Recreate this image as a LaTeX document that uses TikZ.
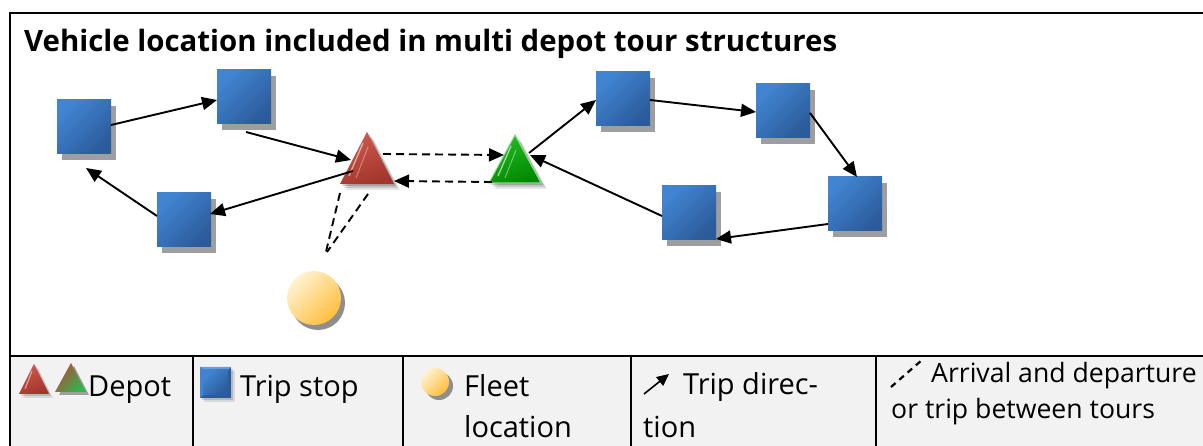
\documentclass[tikz,border=0pt]{standalone}
\usepackage{fontspec}
\setmainfont{Open Sans}
\usetikzlibrary{arrows.meta,shadows,calc}
\definecolor{blueA}{HTML}{4185D2}
\definecolor{blueB}{HTML}{2B5B9A}
\definecolor{shadowgray}{HTML}{9E9E9E}
\definecolor{legendbg}{HTML}{F2F2F2}
\definecolor{redA}{HTML}{D0584C}
\definecolor{redB}{HTML}{A2352C}
\definecolor{greenA}{HTML}{22BB22}
\definecolor{greenB}{HTML}{008800}
\definecolor{greenE}{HTML}{8AD88A}
\definecolor{yelA}{HTML}{FFF3D2}
\definecolor{yelB}{HTML}{FFBE3C}
\definecolor{mixA}{HTML}{B54A3A}
\definecolor{mixB}{HTML}{2DB84C}
\begin{document}
\begin{tikzpicture}[x=1pt,y=-1pt,
  frame/.style={line width=2pt, draw=black},
  stopbox/.style={rectangle, minimum size=54pt, inner sep=0pt, draw=none,
    top color=blueA, bottom color=blueB, shading angle=45,
    general shadow={fill=shadowgray, shadow xshift=5pt, shadow yshift=-6pt}},
  fleetdot/.style={circle, minimum size=54pt, inner sep=0pt, draw=none,
    top color=yelA, bottom color=yelB, shading angle=45,
    general shadow={fill=shadowgray!90!black, shadow xshift=4pt, shadow yshift=-5pt}},
  trip/.style={line width=1.9pt, -{Triangle[length=15pt,width=13pt]}},
  tripdash/.style={line width=1.9pt, dash pattern=on 8pt off 5pt},
  tripdasharr/.style={tripdash, -{Triangle[length=15pt,width=13pt]}},
  title/.style={font=\fontsize{29.4}{34}\selectfont\bfseries, anchor=base west, inner sep=0pt},
  legtext/.style={font=\fontsize{29}{34}\selectfont, anchor=base west, inner sep=0pt},
  legsmall/.style={font=\fontsize{26.6}{32}\selectfont, anchor=base west, inner sep=0pt},
]
\useasboundingbox (0,0) rectangle (1203,446);
% legend background and frame
\fill[legendbg] (10,356) rectangle (1212,452);
\draw[frame] (10,13) rectangle (1212,452);
\draw[frame] (10,356) -- (1212,356);
\foreach \xx in {193,403,631,876} \draw[frame] (\xx,356) -- (\xx,452);

% title
\node[title] (ttl) at (24,52) {Vehicle location included in multi depot tour structures};

% trip stops
\node[stopbox] (s1) at (84,127) {};
\node[stopbox] (s2) at (244,97) {};
\node[stopbox] (s3) at (184,220) {};
\node[stopbox] (s4) at (623,99) {};
\node[stopbox] (s5) at (783,111) {};
\node[stopbox] (s6) at (855,204) {};
\node[stopbox] (s7) at (689,213) {};

% fleet location
\node[fleetdot] (fleet) at (314,298) {};

% depots (drawn shapes) with named centres
\coordinate (red) at (367,158);
\coordinate (green) at (515,159);
\foreach \o/\s in {0.10/6, 0.14/4, 0.18/2} {
  \fill[black, opacity=\o] (367+\s,132+\s) -- (340+\s,184+\s) -- (394+\s,184+\s) -- cycle;
  \fill[black, opacity=\o] (515+\s,135+\s) -- (489+\s,183+\s) -- (541+\s,183+\s) -- cycle;
}
\shade[top color=redA, bottom color=redB, shading angle=20] (367,132) -- (340,184) -- (394,184) -- cycle;
\draw[white, opacity=0.55, line width=1.3pt] (363,143) -- (349,176);
\draw[white, opacity=0.35, line width=1pt] (368,147) -- (356,178);
\shade[top color=greenA, bottom color=greenB, shading angle=20, draw=greenE, line width=1pt] (515,135) -- (489,183) -- (541,183) -- cycle;
\draw[white, opacity=0.6, line width=1.3pt] (511,146) -- (498,176);
\draw[white, opacity=0.4, line width=1pt] (516,150) -- (505,178);

% left tour
\draw[trip] ([shift={(27,-2)}]s1.center) -- ([shift={(-27,3)}]s2.center);
\draw[trip] ([shift={(2,35)}]s2.center) -- ([shift={(-16,2)}]red);
\draw[trip] ([shift={(-14,13)}]red) -- ([shift={(26,-6)}]s3.center);
\draw[trip] ([shift={(-27,-4)}]s3.center) -- ([shift={(2,41)}]s1.center);

% between depots
\draw[tripdasharr] ([shift={(16,-4)}]red) -- ([shift={(-11,-4)}]green);
\draw[tripdasharr] ([shift={(-23,23)}]green) -- ([shift={(27,23)}]red);

% depot to fleet
\draw[tripdash] ([shift={(-27,35)}]red) -- ([shift={(11,-42)}]fleet.center);
\draw[tripdash] ([shift={(1,36)}]red) -- ([shift={(13,-46)}]fleet.center);

% right tour
\draw[trip] ([shift={(14,-6)}]green) -- ([shift={(-27,1)}]s4.center);
\draw[trip] ([shift={(27,1)}]s4.center) -- ([shift={(-27,1)}]s5.center);
\draw[trip] ([shift={(27,2)}]s5.center) -- ([shift={(2,-27)}]s6.center);
\draw[trip] ([shift={(-27,20)}]s6.center) -- ([shift={(27,26)}]s7.center);
\draw[trip] ([shift={(-27,3)}]s7.center) -- ([shift={(15,-4)}]green);

% ---- legend ----
% depot icons
\coordinate (ldep1) at (34,380);
\coordinate (ldep2) at (71,378);
\foreach \o/\s in {0.10/4, 0.15/2} \fill[black, opacity=\o] (34+\s,364+\s) -- (19+\s,394+\s) -- (49+\s,394+\s) -- cycle;
\shade[top color=redA, bottom color=redB, shading angle=20] (34,364) -- (19,394) -- (49,394) -- cycle;
\draw[white, opacity=0.55, line width=1pt] (32,371) -- (25,389);
\fill[shadowgray] (74,366) -- (59,395) -- (89,395) -- cycle;
\shade[top color=mixA, bottom color=mixB, shading angle=50] (71,363) -- (55,392) -- (86,392) -- cycle;
\node[legtext] (ldepot) at (88,397) {Depot};

% trip stop icon
\coordinate (lstop) at (215,382);
\foreach \o/\s in {0.10/4, 0.15/2} \fill[black, opacity=\o] (200+\s,367+\s) rectangle (231+\s,398+\s);
\fill[blueB] (200,367) rectangle (231,398);
\fill[blueA!80!white] (200,367) -- (231,367) -- (228,370) -- (203,370) -- cycle;
\fill[blueA] (200,367) -- (203,370) -- (203,395) -- (200,398) -- cycle;
\shade[top color=blueA, bottom color=blueB, shading angle=45] (203,370) rectangle (228,395);
\node[legtext] (lstoptxt) at (240,397) {Trip stop};

% fleet icon
\fill[shadowgray!90!black] (439,386) circle (14);
\shade[top color=yelA, bottom color=yelB, shading angle=45] (435,382) circle (14);
\coordinate (lfleet) at (435,382);
\node[legtext] (lfleet1) at (464,396) {Fleet};
\node[legtext] (lfleet2) at (464,437) {location};

% trip direction icon
\coordinate (ltripA) at (644,394);
\coordinate (ltripB) at (669,374);
\draw[line width=1.6pt, -{Triangle[length=12pt,width=11pt]}] (ltripA) -- (ltripB);
\node[legtext] (ltrip1) at (683,395) {Trip direc-};
\node[legtext] (ltrip2) at (643,437) {tion};

% dashed icon
\coordinate (ldashA) at (891,387);
\coordinate (ldashB) at (922,360);
\draw[line width=2.2pt, dash pattern=on 6pt off 5pt] (ldashA) -- (ldashB);
\node[legsmall] (ldash1) at (931,383) {Arrival and departure};
\node[legsmall] (ldash2) at (891,418) {or trip between tours};
\end{tikzpicture}
\end{document}
